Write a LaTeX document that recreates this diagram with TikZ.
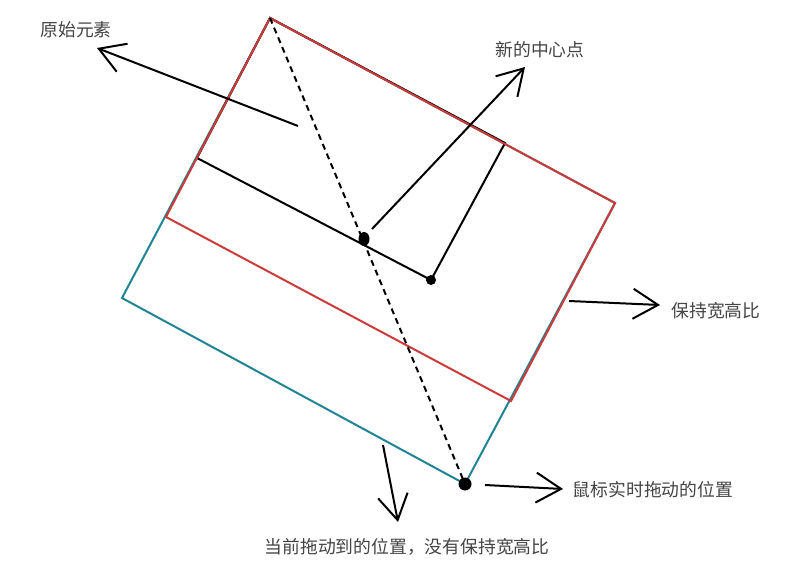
\documentclass[tikz,border=0pt]{standalone}
\usepackage{fontspec}
\newfontfamily\cjk{Noto Sans CJK SC}
\usetikzlibrary{arrows.meta}
\definecolor{redline}{HTML}{CC3A3A}
\definecolor{tealline}{HTML}{1F8494}
\definecolor{txt}{HTML}{444444}
\tikzset{
  lbl/.style={font=\cjk\fontsize{17.8}{20}\selectfont, text=txt, inner sep=0pt},
  edge/.style={line width=2pt, line join=miter},
  arr/.style={line width=2pt, -{Straight Barb[length=25pt,width=30pt]}},
  dashline/.style={line width=2pt, dash pattern=on 6pt off 4.5pt},
}
\begin{document}
\begin{tikzpicture}[x=1pt,y=-1pt]
\useasboundingbox[fill=white] (0,0) rectangle (799,577);
% corners
\coordinate (T) at (270,18);
\coordinate (tL) at (122,298);
\coordinate (tB) at (465,484);
\coordinate (R) at (615,203);
\coordinate (rL) at (166,217);
\coordinate (rB) at (511,401);
\coordinate (bA) at (197,158);
\coordinate (bC) at (431,280);
\coordinate (bD) at (505,143);
\coordinate (ctr) at (364,239);
% teal rectangle
\draw[edge, tealline] (T) -- (tL) -- (tB) -- (R) -- cycle;
% black rectangle (original)
\draw[edge, black] (T) -- (bA) -- (bC) -- (bD) -- cycle;
% red rectangle
\draw[edge, redline] (T) -- (rL) -- (rB) -- (R) -- cycle;
% dashed diagonal
\draw[dashline] (T) -- (tB);
% dots
\fill (ctr) ellipse (5.5pt and 7pt);
\fill (bC) circle (5pt);
\fill (tB) circle (6.5pt);
% labels
\node[lbl] (n1) at (76,30) {原始元素};
\node[lbl] (n2) at (540,50) {新的中心点};
\node[lbl] (n3) at (716,311) {保持宽高比};
\node[lbl] (n4) at (653,490) {鼠标实时拖动的位置};
\node[lbl] (n5) at (407,547) {当前拖动到的位置，没有保持宽高比};
% arrow endpoints
\coordinate (a1s) at (298,126); \coordinate (a1e) at (97,48);
\coordinate (a2s) at (372,229); \coordinate (a2e) at (525,67);
\coordinate (a3s) at (569,301); \coordinate (a3e) at (660,305);
\coordinate (a4s) at (485,485); \coordinate (a4e) at (563,489);
\coordinate (a5s) at (383,445); \coordinate (a5e) at (398,522);
\draw[arr] (a1s) -- (a1e);
\draw[arr] (a2s) -- (a2e);
\draw[arr] (a3s) -- (a3e);
\draw[arr] (a4s) -- (a4e);
\draw[arr] (a5s) -- (a5e);
\end{tikzpicture}
\end{document}
